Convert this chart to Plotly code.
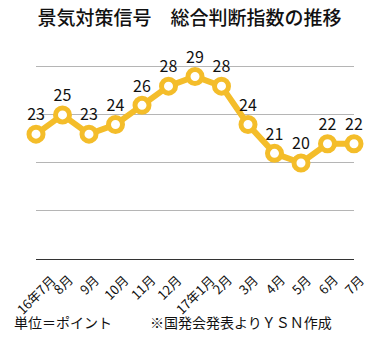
import plotly.graph_objects as go

months = ["16年7月", "8月", "9月", "10月", "11月", "12月", "17年1月",
          "2月", "3月", "4月", "5月", "6月", "7月"]
values = [23, 25, 23, 24, 26, 28, 29, 28, 24, 21, 20, 22, 22]

gold = "#F4BD2A"
font = "Noto Sans CJK JP"
plot_h = 349 - 65 - 90

fig = go.Figure()
fig.add_trace(go.Scatter(
    x=list(range(len(months))), y=values,
    mode="lines+markers+text",
    text=[str(v) for v in values],
    textposition="top center",
    textfont=dict(family=font, size=16, color="#111"),
    line=dict(color=gold, width=6),
    marker=dict(symbol="circle", size=14, color="white",
                line=dict(color=gold, width=5)),
    cliponaxis=False,
    hoverinfo="skip",
))

# month labels rotated about their centre, hanging below each category
tick_annots = [
    dict(text=m, xref="x", yref="paper", x=i, y=-(268 - 259) / plot_h,
         xanchor="center", yanchor="top", textangle=-45, showarrow=False,
         font=dict(family=font, size=13, color="#111"))
    for i, m in enumerate(months)
]

fig.update_layout(
    width=379, height=349,
    margin=dict(l=36, r=25, t=65, b=90),
    paper_bgcolor="white", plot_bgcolor="white",
    showlegend=False,
    title=dict(text="景気対策信号　総合判断指数の推移",
               x=0.5, xanchor="center", y=1 - 18 / 349, yanchor="middle",
               font=dict(family=font, size=19, color="#111", weight=500)),
    xaxis=dict(range=[0, len(months) - 1], automargin=False,
               tickmode="array", tickvals=list(range(len(months))),
               showticklabels=False,
               showgrid=False, zeroline=False,
               showline=True, linecolor="#333", linewidth=1, ticks=""),
    yaxis=dict(range=[10, 30.2], dtick=5, showticklabels=False, automargin=False,
               showgrid=True, gridcolor="#b5b5b5", gridwidth=1,
               zeroline=False, showline=False),
    annotations=tick_annots + [
        dict(text="単位＝ポイント", xref="paper", yref="paper",
             x=-24 / 318, y=-(322 - 259) / plot_h, xanchor="left", yanchor="middle",
             showarrow=False, font=dict(family=font, size=14, color="#111")),
        dict(text="※国発会発表よりＹＳＮ作成", xref="paper", yref="paper",
             x=(148 - 36) / 318, y=-(322 - 259) / plot_h, xanchor="left", yanchor="middle",
             showarrow=False, font=dict(family=font, size=14, color="#111")),
    ],
)

fig.write_html("out.html")
